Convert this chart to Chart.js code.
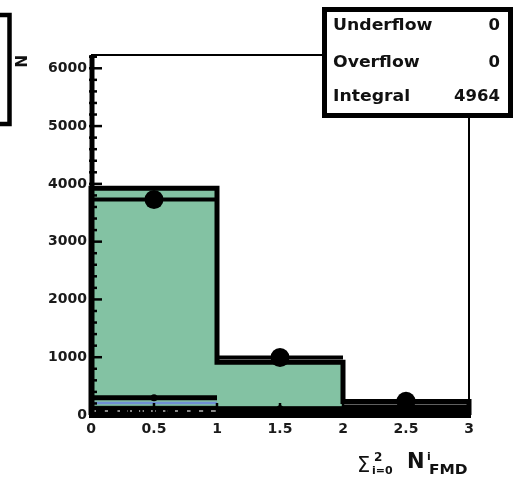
<!DOCTYPE html>
<html>
<head>
<meta charset="utf-8">
<script src="https://cdn.jsdelivr.net/npm/chart.js@4.4.1/dist/chart.umd.min.js"></script>
<style>
  html, body { margin: 0; padding: 0; background: #fff; }
  #wrap { width: 514px; height: 482px; position: relative; }
</style>
</head>
<body>
<div id="wrap"><canvas id="c"></canvas></div>
<script>
// bins of sum_{i=0}^{2} N^i_FMD
const binEdges = [0, 1, 2, 3];
const binCenters = [0.5, 1.5, 2.5];
const xTicks = [0, 0.5, 1, 1.5, 2, 2.5, 3];
const yTicks = [0, 1000, 2000, 3000, 4000, 5000, 6000];

// values
const dataCounts = [3730, 995, 239];
const lowDataCounts = [300, 110, 60];
const totalMC = [3925, 915, 235];
const greenMC = [3925, 915, 0];
const blackFillMC = [150, 135, 175];
const blueMC = [208, 60, 60];
const grayDashed = [69, 0, 0];
const greenDashed = [0, 0, 52];

const statsLabels = ['Underflow', 'Overflow', 'Integral'];
const statsValues = ['0', '0', '4964'];

// histogram outline: (x0,0) -> steps -> (xN,0)
function stepPoints(vals) {
  const pts = [{x: binEdges[0], y: 0}];
  vals.forEach((v, i) => pts.push({x: binEdges[i], y: v}));
  pts.push({x: binEdges[vals.length], y: vals[vals.length - 1]});
  pts.push({x: binEdges[vals.length], y: 0});
  return pts;
}

// one horizontal bar per bin, broken between bins
function binBars(vals) {
  const pts = [];
  vals.forEach((v, i) => {
    pts.push({x: binEdges[i], y: v}, {x: binEdges[i + 1], y: v});
    if (i < vals.length - 1) pts.push({x: binEdges[i + 1], y: null});
  });
  return pts;
}

const centerPoints = vals => vals.map((v, i) => ({x: binCenters[i], y: v}));

const lineBase = {pointRadius: 0, clip: false, spanGaps: false, fill: false};

const rootFrame = {
  id: 'rootFrame',
  afterDatasetsDraw(chart) {
    const {ctx, chartArea: a, scales: {x, y}} = chart;
    ctx.save();
    ctx.strokeStyle = '#000';
    ctx.lineWidth = 2;
    ctx.beginPath();
    ctx.moveTo(a.left, a.top);
    ctx.lineTo(a.right, a.top);
    ctx.lineTo(a.right, a.bottom);
    ctx.stroke();

    // thick axes
    ctx.lineWidth = 5;
    ctx.beginPath();
    ctx.moveTo(a.left + 1, a.top);
    ctx.lineTo(a.left + 1, a.bottom + 3);
    ctx.moveTo(a.left - 2, a.bottom + 0.5);
    ctx.lineTo(a.right + 2, a.bottom + 0.5);
    ctx.stroke();

    // y ticks (inside)
    ctx.lineWidth = 2.5;
    for (let v = 0; v <= y.max; v += 200) {
      const py = y.getPixelForValue(v);
      const major = v % 1000 === 0;
      ctx.beginPath();
      ctx.moveTo(a.left - 2, py);
      ctx.lineTo(a.left + (major ? 11 : 6), py);
      ctx.stroke();
    }
    // x ticks (inside)
    for (let v = 0; v <= 3.001; v += 0.1) {
      const px = x.getPixelForValue(v);
      const major = Math.abs(v * 2 - Math.round(v * 2)) < 1e-6;
      ctx.beginPath();
      ctx.moveTo(px, a.bottom);
      ctx.lineTo(px, a.bottom - (major ? 12 : 7));
      ctx.stroke();
    }

    // cut-off box at the left edge
    ctx.lineWidth = 4.5;
    ctx.strokeRect(-10, 15, 19.5, 109);

    // stats box
    ctx.fillStyle = '#fff';
    ctx.fillRect(324, 9, 186, 106);
    ctx.lineWidth = 5;
    ctx.strokeRect(324.5, 9.5, 186, 106);
    ctx.fillStyle = '#111';
    ctx.font = 'bold 15px "DejaVu Sans"';
    ctx.textBaseline = 'middle';
    const rows = [26, 63, 97];
    statsLabels.forEach((lab, i) => {
      ctx.save();
      ctx.translate(333, rows[i]);
      ctx.scale(1.15, 1);
      ctx.textAlign = 'left';
      ctx.fillText(lab, 0, 0);
      ctx.restore();
      ctx.save();
      ctx.translate(500, rows[i]);
      ctx.scale(1.1, 1);
      ctx.textAlign = 'right';
      ctx.fillText(statsValues[i], 0, 0);
      ctx.restore();
    });

    // x axis title: sum_{i=0}^{2} N^{i}_{FMD}
    ctx.textAlign = 'left';
    ctx.textBaseline = 'alphabetic';
    ctx.font = '21px "DejaVu Sans"';
    ctx.fillText('\u03A3', 357, 472);
    ctx.font = 'bold 12px "DejaVu Sans"';
    ctx.fillText('2', 374, 461);
    ctx.font = 'bold 11px "DejaVu Sans"';
    ctx.fillText('i=0', 372, 474);
    ctx.font = 'bold 21px "DejaVu Sans"';
    ctx.fillText('N', 407, 468);
    ctx.font = 'bold 11px "DejaVu Sans"';
    ctx.fillText('i', 427, 460);
    ctx.save();
    ctx.translate(429, 474);
    ctx.scale(1.1, 1);
    ctx.font = 'bold 14px "DejaVu Sans"';
    ctx.fillText('FMD', 0, 0);
    ctx.restore();
    ctx.restore();
  }
};

Chart.defaults.font.family = '"DejaVu Sans"';
Chart.defaults.color = '#1a1a1a';

new Chart(document.getElementById('c'), {
  type: 'line',
  data: {
    datasets: [
      {...lineBase, label: 'green', data: stepPoints(greenMC), stepped: 'before',
        fill: 'origin', backgroundColor: '#83c2a3', borderColor: '#83c2a3', borderWidth: 1, order: 10},
      {...lineBase, label: 'blue', data: binBars(blueMC), borderColor: '#6f8fd4', borderWidth: 2.5, order: 9},
      {...lineBase, label: 'blackFill', data: stepPoints(blackFillMC), stepped: 'before',
        fill: 'origin', backgroundColor: '#000', borderColor: '#000', borderWidth: 1, order: 8},
      {...lineBase, label: 'grayDashed', data: binBars(grayDashed), borderColor: '#8a8a8a',
        borderWidth: 2, borderDash: [5, 7], order: 7},
      {...lineBase, label: 'greenDashed', data: binBars(greenDashed), borderColor: '#5c9e7c',
        borderWidth: 2, borderDash: [5, 7], order: 7},
      {...lineBase, label: 'total', data: stepPoints(totalMC), stepped: 'before',
        borderColor: '#000', borderWidth: 5, borderJoinStyle: 'miter', order: 5},
      {...lineBase, label: 'lowBars', data: binBars(lowDataCounts), borderColor: '#000', borderWidth: 5, order: 4},
      {...lineBase, label: 'lowData', data: centerPoints(lowDataCounts), showLine: false,
        pointRadius: 3.5, pointBackgroundColor: '#000', pointBorderWidth: 0, order: 3},
      {...lineBase, label: 'dataBars', data: binBars(dataCounts), borderColor: '#000', borderWidth: 4, order: 2},
      {...lineBase, label: 'data', data: centerPoints(dataCounts), showLine: false,
        pointRadius: 9.5, pointBackgroundColor: '#000', pointBorderWidth: 0, order: 1}
    ]
  },
  options: {
    responsive: true,
    maintainAspectRatio: false,
    animation: false,
    events: [],
    layout: {padding: {left: 14, right: 45, top: 55, bottom: 0}},
    plugins: {legend: {display: false}, tooltip: {enabled: false}},
    scales: {
      x: {
        type: 'linear',
        min: 0,
        max: 3,
        grid: {display: false, drawTicks: false, tickLength: 0},
        border: {display: false},
        afterBuildTicks: s => { s.ticks = xTicks.map(v => ({value: v})); },
        afterFit: s => { s.height = 67; },
        ticks: {
          autoSkip: false,
          maxRotation: 0,
          padding: 6,
          font: {size: 14, weight: 'bold'},
          callback: v => String(v)
        }
      },
      y: {
        type: 'linear',
        min: 0,
        max: 6230,
        grid: {display: false, drawTicks: false, tickLength: 0},
        border: {display: false},
        afterBuildTicks: s => { s.ticks = yTicks.map(v => ({value: v})); },
        afterFit: s => { s.width = 77; },
        title: {
          display: true,
          text: 'N',
          align: 'end',
          color: '#111',
          padding: {top: 0, bottom: 0},
          font: {size: 15, weight: 'bold'}
        },
        ticks: {
          autoSkip: false,
          padding: 4,
          font: {size: 14, weight: 'bold'},
          callback: v => String(v)
        }
      }
    }
  },
  plugins: [rootFrame]
});
</script>
</body>
</html>
